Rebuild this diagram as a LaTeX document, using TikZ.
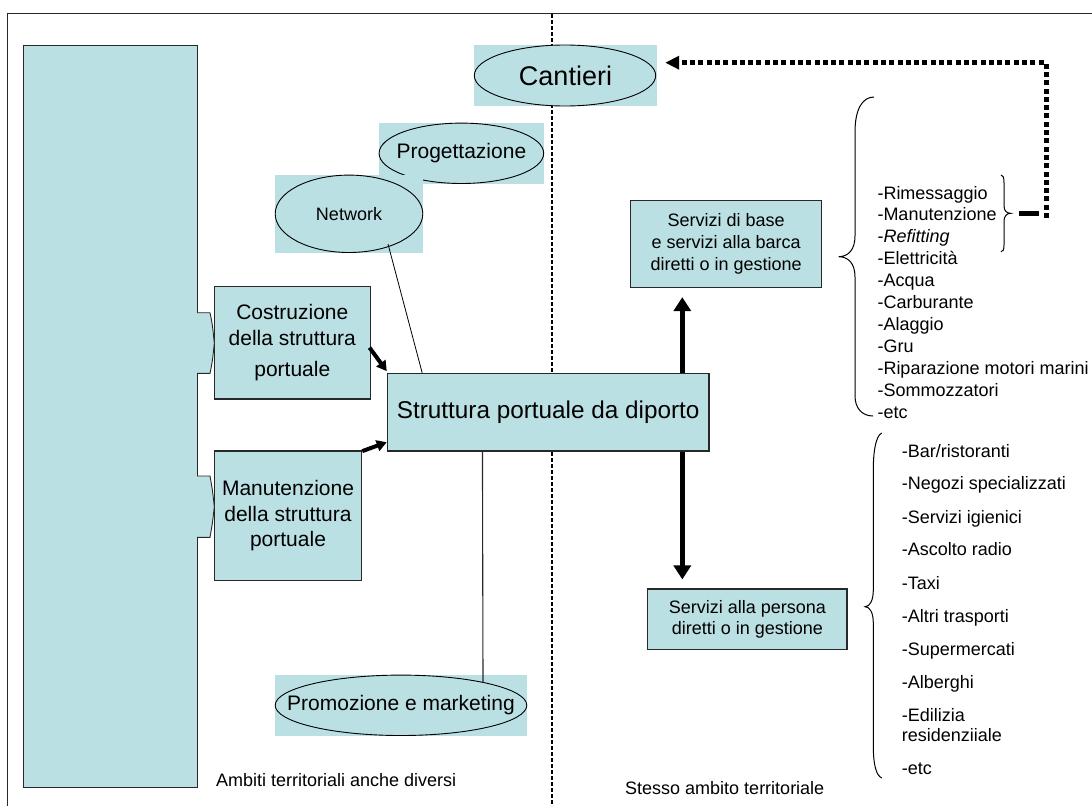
\documentclass[tikz,border=0pt]{standalone}
\usepackage{fontspec}
\setmainfont{Liberation Sans}
\usetikzlibrary{arrows.meta,calc}
\definecolor{boxfill}{RGB}{187,224,227}
\definecolor{edge}{RGB}{40,40,40}
\begin{document}
\begin{tikzpicture}[x=1pt,y=-1pt,
  box/.style={draw=edge, line width=1.1pt, fill=boxfill, inner sep=0pt, align=center},
  bg/.style={fill=boxfill, inner sep=0pt, align=center},
  ell/.style={draw=black, line width=0.9pt},
  thickarrow/.style={line width=4pt, -{Triangle[length=10pt,width=11pt]}},
  vertarrow/.style={line width=5pt, -{Triangle[length=14pt,width=17pt]}},
  dotline/.style={line width=5pt, dash pattern=on 5pt off 3.3pt, -{Triangle[length=14pt,width=13pt]}},
  item/.style={anchor=base west, inner sep=0pt, font=\fontsize{18}{21.6}\selectfont},
  brace/.style={draw=black, line width=1pt}
]
\useasboundingbox (0,0) rectangle (1092,806);

% frame and divider
\draw[line width=1.2pt, edge] (7.8,806) -- (7.8,13.5) -- (1092,13.5);
\draw[line width=1.6pt, dash pattern=on 4pt off 2pt] (552,14) -- (552,806);

% big left rectangle
\node[box, minimum width=174, minimum height=742] (ambiti) at (110.5,416.3) {};

% left boxes
\node[box, minimum width=156, minimum height=112.3, font=\fontsize{21}{25.7}\selectfont] (cost) at (292.3,342.85) {Costruzione\\della struttura\\[5.3pt]portuale};
\node[box, minimum width=147.4, minimum height=129.7, font=\fontsize{21}{25.5}\selectfont] (manut) at (288,515.85) {Manutenzione\\della struttura\\portuale};

% tabs
\fill[boxfill] (197,312.7) -- (210,312.7) .. controls (212.5,325) .. (214.3,343) .. controls (212.5,361) .. (210,373.3) -- (197,373.3) -- cycle;
\draw[edge, line width=0.9pt] (197,312.7) -- (210,312.7) .. controls (212.5,325) .. (214.3,343) .. controls (212.5,361) .. (210,373.3) -- (197,373.3);
\fill[boxfill] (197,476) -- (210,476) .. controls (212.5,490) .. (214.3,506.7) .. controls (212.5,523) .. (210,537.3) -- (197,537.3) -- cycle;
\draw[edge, line width=0.9pt] (197,476) -- (210,476) .. controls (212.5,490) .. (214.3,506.7) .. controls (212.5,523) .. (210,537.3) -- (197,537.3);

% central box
\node[box, minimum width=321.7, minimum height=77.7, font=\fontsize{24.3}{29}\selectfont] (strut) at (548.15,412.15) {Struttura portuale da diporto};

% right boxes
\node[box, minimum width=191.2, minimum height=86.6, font=\fontsize{18}{22}\selectfont] (base) at (726.1,244) {Servizi di base\\e servizi alla barca\\diretti o in gestione};
\node[box, minimum width=199.3, minimum height=60.3, font=\fontsize{18}{20.7}\selectfont] (pers) at (747.35,619.15) {Servizi alla persona\\diretti o in gestione};

% ellipse nodes
\node[bg, minimum width=183, minimum height=61, font=\fontsize{27}{32}\selectfont] (cant) at (565.5,75.5) {Cantieri};
\draw[ell] (565,75.5) ellipse [x radius=90.7, y radius=30.5];
\node[bg, minimum width=165, minimum height=60.7, font=\fontsize{21}{25}\selectfont] (prog) at (461.4,153.3) {Progettazione};
\draw[ell] (prog.center) ellipse [x radius=82.3, y radius=30.2];
\node[bg, minimum width=148, minimum height=77.7, font=\fontsize{18}{21}\selectfont] (net) at (349,213.8) {Network};
\draw[ell] (net.center) ellipse [x radius=73.8, y radius=38.7];
\node[bg, minimum width=252, minimum height=60.7, font=\fontsize{21}{25}\selectfont] (promo) at (401,705.3) {Promozione e marketing};
\draw[ell] (promo.center) ellipse [x radius=125.8, y radius=30.2];

% connectors
\coordinate (netfoot) at ($(net.center)+(39,30.2)$);
\coordinate (promotop) at ($(promo.center)+(82,-22.6)$);
\coordinate (ax) at (682.3,0);
\draw[line width=0.8pt] (netfoot) -- ($(strut.north west)+(35.4,0)$);
\draw[line width=1.1pt, edge] ($(strut.south west)+(95.7,0)$) -- (promotop);
\draw[thickarrow] ($(cost.east)+(-1.3,4.8)$) -- ($(strut.north west)+(0,-1.6)$);
\draw[thickarrow] ($(manut.north east)+(0,0.7)$) -- ($(strut.south west)+(0,-9.3)$);
\draw[vertarrow] (strut.north -| ax) -- ($(base.south -| ax)+(0,9.3)$);
\draw[vertarrow] (strut.south -| ax) -- ($(pers.north -| ax)+(0,-9)$);
\draw[dotline] (1046,218) -- (1046,62.7) -- ($(cant.east)+(8,-12.8)$);
\draw[line width=5.5pt] (1019.3,213.3) -- (1039,213.3);

% braces
\draw[brace] (874,97) .. controls (862,97) and (855,110) .. (855,132) -- (855,236)
  .. controls (855,250) and (848,256.7) .. (838.6,256.7)
  .. controls (848,256.7) and (855,263) .. (855,277) -- (855,396)
  .. controls (855,408) and (862,416) .. (873,416);
\draw[brace] (881.7,433) .. controls (876,436) and (873.3,450) .. (873.3,470) -- (873.3,590)
  .. controls (873.3,600) and (870,606.7) .. (865,606.7)
  .. controls (870,606.7) and (873.3,613) .. (873.3,623) -- (873.3,745)
  .. controls (873.3,765) and (876,775) .. (881.7,778);
\draw[brace] (1001,175) .. controls (1003,175) and (1004,177) .. (1004,183) -- (1004,206)
  .. controls (1004,211) and (1007,213.3) .. (1010.7,213.3)
  .. controls (1007,213.3) and (1004,216) .. (1004,221) -- (1004,245)
  .. controls (1004,250) and (1003,251.7) .. (1001,251.7);

% base list
\foreach \t [count=\i from 0] in {-Rimessaggio,-Manutenzione,-\textit{Refitting},-Elettricità,-Acqua,-Carburante,-Alaggio,-Gru,-Riparazione motori marini,-Sommozzatori,-etc}
  \node[item] (b\i) at (877.3,{199+21.9*\i}) {\t};

% persona list
\node[item] (p0) at (901.7,457.2) {-Bar/ristoranti};
\node[item] (p1) at (901.7,489.8) {-Negozi specializzati};
\node[item] (p2) at (901.7,523.2) {-Servizi igienici};
\node[item] (p3) at (901.7,555.8) {-Ascolto radio};
\node[item] (p4) at (901.7,589.2) {-Taxi};
\node[item] (p5) at (901.7,622.5) {-Altri trasporti};
\node[item] (p6) at (901.7,655.5) {-Supermercati};
\node[item] (p7) at (901.7,688.2) {-Alberghi};
\node[item] (p8) at (901.7,721.5) {-Edilizia};
\node[item] (p9) at (901.7,741.5) {residenziiale};
\node[item] (p10) at (901.7,774.8) {-etc};

% area labels
\node[item] (lab1) at (216,786.5) {Ambiti territoriali anche diversi};
\node[item] (lab2) at (625,794.5) {Stesso ambito territoriale};
\end{tikzpicture}
\end{document}
